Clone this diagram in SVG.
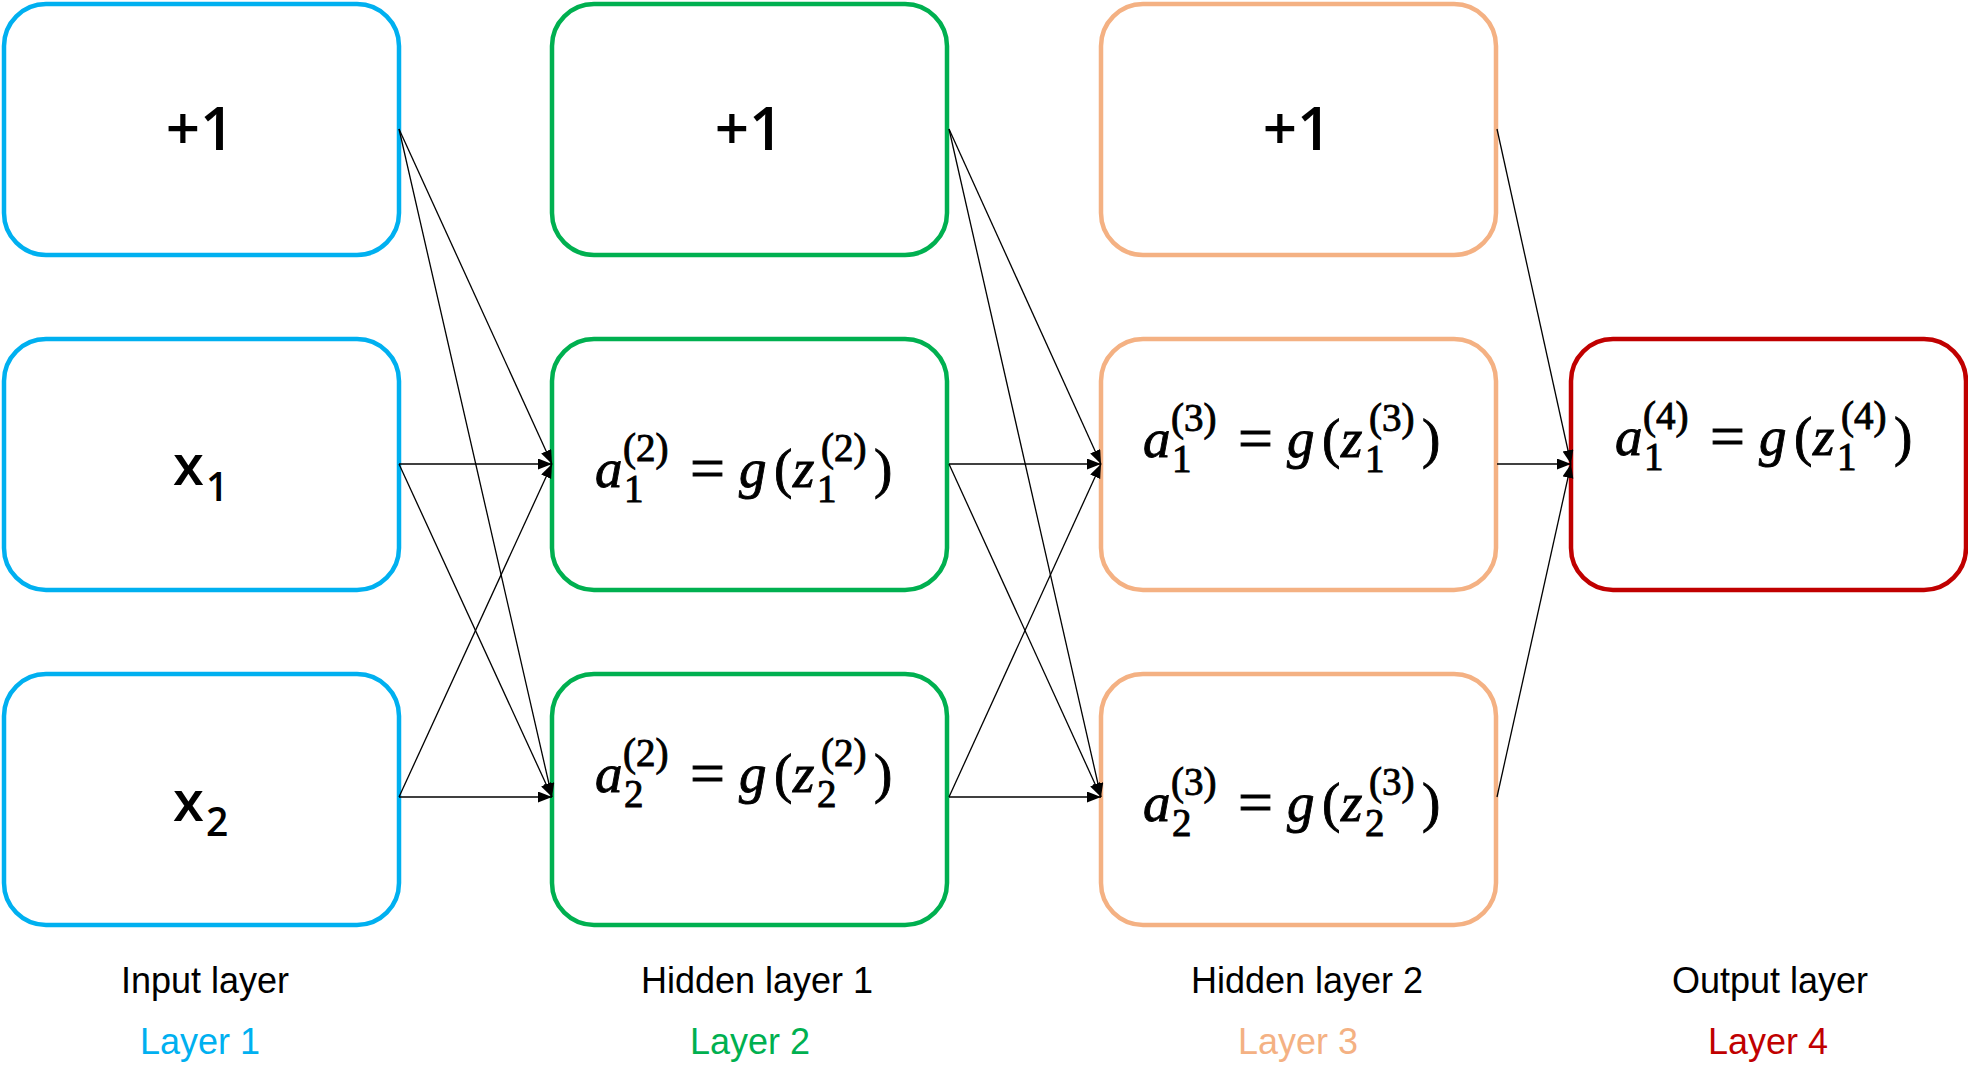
<svg xmlns="http://www.w3.org/2000/svg" width="1968" height="1085" viewBox="0 0 1968 1085">
<style>
.box{fill:#fff;stroke-width:4.5}
.b1{stroke:#00B0F0}.b2{stroke:#00B050}.b3{stroke:#F4B183}.b4{stroke:#C00000}
.big{font-family:"Open Sans","Noto Sans",sans-serif;font-size:60px;font-weight:600;fill:#000;text-anchor:middle}
.xv{font-family:"Open Sans","Noto Sans",sans-serif;font-size:56px;font-weight:600;fill:#000}
.xs{font-size:39px}
.m{font-family:"Liberation Serif","DejaVu Serif",serif;font-size:55px;fill:#000;stroke:#000;stroke-width:0.9}
.i{font-style:italic}
.s{font-size:39px}
.eq{font-size:62px}
.lbl{font-family:"Liberation Sans",Arial,sans-serif;font-size:36px;text-anchor:middle}
.conn line{stroke:#000;stroke-width:1.3;fill:none;marker-end:url(#ah)}
</style>
<defs>
<marker id="ah" markerUnits="userSpaceOnUse" markerWidth="15" markerHeight="12" refX="14" refY="5.5" orient="auto">
<path d="M0,0 L14,5.5 L0,11 z" fill="#000"/>
</marker>
</defs>

<g id="n-bias1">
<rect class="box b1" x="4" y="4" width="395" height="251" rx="42"/>
<text class="big" x="200" y="150">+1</text>
</g>
<g id="n-x1">
<rect class="box b1" x="4" y="339" width="395" height="251" rx="42"/>
<text class="xv"><tspan x="173" y="485">x</tspan><tspan class="xs" x="206" y="501">1</tspan></text>
</g>
<g id="n-x2">
<rect class="box b1" x="4" y="674" width="395" height="251" rx="42"/>
<text class="xv"><tspan x="173" y="821">x</tspan><tspan class="xs" x="206" y="836">2</tspan></text>
</g>

<g id="n-bias2">
<rect class="box b2" x="552" y="4" width="395" height="251" rx="42"/>
<text class="big" x="749" y="150">+1</text>
</g>
<g id="n-a12">
<rect class="box b2" x="552" y="339" width="395" height="251" rx="42"/>
<text class="m" transform="translate(595,487)"><tspan class="i" x="0" y="0">a</tspan><tspan class="s" x="28" y="-26">(2)</tspan><tspan class="s" x="29" y="15">1</tspan><tspan class="eq" x="95" y="2">=</tspan><tspan class="i" x="144" y="0">g</tspan><tspan x="179" y="0">(</tspan><tspan class="i" x="198" y="0">z</tspan><tspan class="s" x="222" y="15">1</tspan><tspan class="s" x="226" y="-26">(2)</tspan><tspan x="279" y="0">)</tspan></text>
</g>
<g id="n-a22">
<rect class="box b2" x="552" y="674" width="395" height="251" rx="42"/>
<text class="m" transform="translate(595,792)"><tspan class="i" x="0" y="0">a</tspan><tspan class="s" x="28" y="-26">(2)</tspan><tspan class="s" x="29" y="15">2</tspan><tspan class="eq" x="95" y="2">=</tspan><tspan class="i" x="144" y="0">g</tspan><tspan x="179" y="0">(</tspan><tspan class="i" x="198" y="0">z</tspan><tspan class="s" x="222" y="15">2</tspan><tspan class="s" x="226" y="-26">(2)</tspan><tspan x="279" y="0">)</tspan></text>
</g>

<g id="n-bias3">
<rect class="box b3" x="1101" y="4" width="395" height="251" rx="42"/>
<text class="big" x="1297" y="150">+1</text>
</g>
<g id="n-a13">
<rect class="box b3" x="1101" y="339" width="395" height="251" rx="42"/>
<text class="m" transform="translate(1143,457)"><tspan class="i" x="0" y="0">a</tspan><tspan class="s" x="28" y="-26">(3)</tspan><tspan class="s" x="29" y="15">1</tspan><tspan class="eq" x="95" y="2">=</tspan><tspan class="i" x="144" y="0">g</tspan><tspan x="179" y="0">(</tspan><tspan class="i" x="198" y="0">z</tspan><tspan class="s" x="222" y="15">1</tspan><tspan class="s" x="226" y="-26">(3)</tspan><tspan x="279" y="0">)</tspan></text>
</g>
<g id="n-a23">
<rect class="box b3" x="1101" y="674" width="395" height="251" rx="42"/>
<text class="m" transform="translate(1143,821)"><tspan class="i" x="0" y="0">a</tspan><tspan class="s" x="28" y="-26">(3)</tspan><tspan class="s" x="29" y="15">2</tspan><tspan class="eq" x="95" y="2">=</tspan><tspan class="i" x="144" y="0">g</tspan><tspan x="179" y="0">(</tspan><tspan class="i" x="198" y="0">z</tspan><tspan class="s" x="222" y="15">2</tspan><tspan class="s" x="226" y="-26">(3)</tspan><tspan x="279" y="0">)</tspan></text>
</g>

<g id="n-a14">
<rect class="box b4" x="1571" y="339" width="395" height="251" rx="42"/>
<text class="m" transform="translate(1615,455)"><tspan class="i" x="0" y="0">a</tspan><tspan class="s" x="28" y="-26">(4)</tspan><tspan class="s" x="29" y="15">1</tspan><tspan class="eq" x="95" y="2">=</tspan><tspan class="i" x="144" y="0">g</tspan><tspan x="179" y="0">(</tspan><tspan class="i" x="198" y="0">z</tspan><tspan class="s" x="222" y="15">1</tspan><tspan class="s" x="226" y="-26">(4)</tspan><tspan x="279" y="0">)</tspan></text>
</g>

<g class="conn" id="connectors">
<line x1="399" y1="129" x2="552" y2="464"/>
<line x1="399" y1="129" x2="552" y2="797"/>
<line x1="399" y1="464" x2="552" y2="464"/>
<line x1="399" y1="464" x2="552" y2="797"/>
<line x1="399" y1="797" x2="552" y2="464"/>
<line x1="399" y1="797" x2="552" y2="797"/>
<line x1="949" y1="129" x2="1101" y2="464"/>
<line x1="949" y1="129" x2="1101" y2="797"/>
<line x1="949" y1="464" x2="1101" y2="464"/>
<line x1="949" y1="464" x2="1101" y2="797"/>
<line x1="949" y1="797" x2="1101" y2="464"/>
<line x1="949" y1="797" x2="1101" y2="797"/>
<line x1="1497" y1="129" x2="1571" y2="464"/>
<line x1="1497" y1="464" x2="1571" y2="464"/>
<line x1="1497" y1="797" x2="1571" y2="464"/>
</g>

<g id="labels">
<text class="lbl" x="205" y="993" fill="#000">Input layer</text>
<text class="lbl" x="200" y="1054" fill="#00B0F0">Layer 1</text>
<text class="lbl" x="757" y="993" fill="#000">Hidden layer 1</text>
<text class="lbl" x="750" y="1054" fill="#00B050">Layer 2</text>
<text class="lbl" x="1307" y="993" fill="#000">Hidden layer 2</text>
<text class="lbl" x="1298" y="1054" fill="#F4B183">Layer 3</text>
<text class="lbl" x="1770" y="993" fill="#000">Output layer</text>
<text class="lbl" x="1768" y="1054" fill="#C00000">Layer 4</text>
</g>
</svg>
